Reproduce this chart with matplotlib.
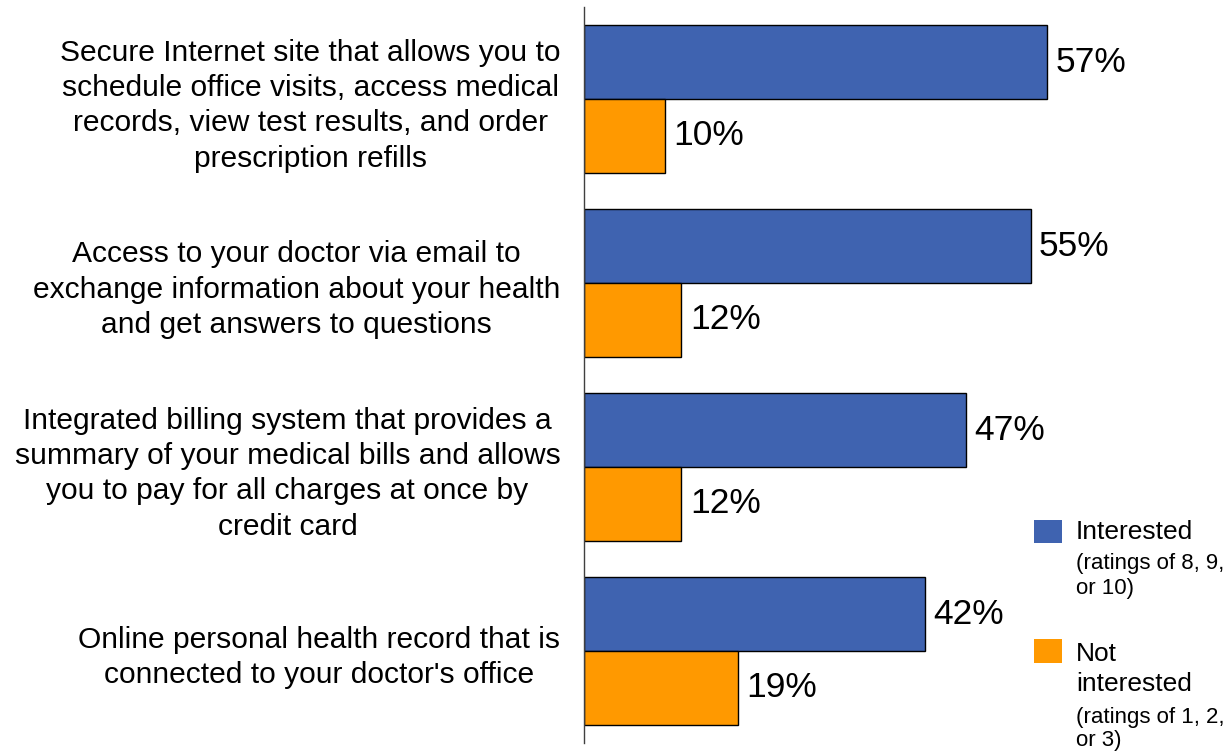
import matplotlib
matplotlib.use("Agg")
import matplotlib.pyplot as plt
from matplotlib.patches import Rectangle
import numpy as np

plt.rcParams['font.family'] = ['Liberation Sans', 'DejaVu Sans']

# Survey features and share of respondents
features = [
    "Secure Internet site that allows you to\nschedule office visits, access medical\n"
    "records, view test results, and order\nprescription refills",
    "Access to your doctor via email to\nexchange information about your health\n"
    "and get answers to questions",
    "Integrated billing system that provides a\nsummary of your medical bills and allows\n"
    "you to pay for all charges at once by\ncredit card",
    "Online personal health record that is\nconnected to your doctor's office",
]
interested = [57, 55, 47, 42]
not_interested = [10, 12, 12, 19]

blue = "#3F63B0"
orange = "#FF9900"

fig = plt.figure(figsize=(12.31, 7.51), dpi=100)
ax = fig.add_axes([584 / 1231, 8 / 751, 644 / 1231, 736 / 751])

pos = np.arange(len(features))
h = 0.4
b1 = ax.barh(pos - h / 2, interested, height=h, color=blue, edgecolor="black", linewidth=1)
b2 = ax.barh(pos + h / 2, not_interested, height=h, color=orange, edgecolor="black", linewidth=1)

ax.bar_label(b1, labels=[f"{v}%" for v in interested], padding=6, fontsize=25.5)
ax.bar_label(b2, labels=[f"{v}%" for v in not_interested], padding=6, fontsize=25.5)

ax.set_xlim(0, 79.3)
ax.set_ylim(3.5, -0.5)
ax.set_xticks([])
ax.set_yticks(pos)
ax.set_yticklabels(features, fontsize=21.6, multialignment="center", linespacing=1.33)
ax.tick_params(axis="y", length=0, pad=17)
for s in ["top", "right", "bottom"]:
    ax.spines[s].set_visible(False)
ax.spines["left"].set_color("#404040")
ax.spines["left"].set_linewidth(1)


def px(x, y):
    return x / 1231, 1 - y / 751


# legend
fig.patches.append(Rectangle(px(1034, 543), 28 / 1231, 23 / 751, transform=fig.transFigure,
                             facecolor=blue, edgecolor="none"))
fig.patches.append(Rectangle(px(1034, 663), 28 / 1231, 24 / 751, transform=fig.transFigure,
                             facecolor=orange, edgecolor="none"))
fig.text(*px(1076, 532), "Interested", fontsize=19, va="center", ha="left")
fig.text(*px(1076, 576), "(ratings of 8, 9,\nor 10)", fontsize=16, va="center", ha="left",
         linespacing=1.25)
fig.text(*px(1076, 669), "Not\ninterested", fontsize=19, va="center", ha="left",
         linespacing=1.3)
fig.text(*px(1076, 729), "(ratings of 1, 2,\nor 3)", fontsize=16, va="center", ha="left",
         linespacing=1.1)

fig.savefig("out.png", dpi=100)
